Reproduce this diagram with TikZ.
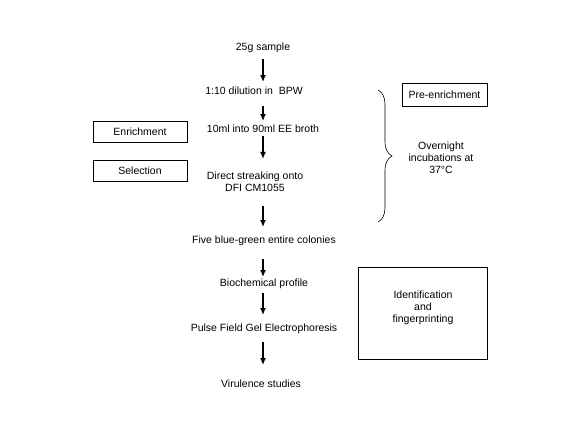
\documentclass[tikz,border=0pt]{standalone}
\usepackage{fontspec}
\setmainfont{Liberation Sans}
\usetikzlibrary{arrows.meta, decorations.pathreplacing}

\begin{document}
\begin{tikzpicture}[x=1pt,y=-1pt,
		every node/.style={font=\fontsize{10.5}{12}\selectfont, inner sep=0pt},
		stage/.style={text height=7.5pt, text depth=2pt},
		twoline/.style={align=center},
		tag/.style={draw=black, line width=0.8pt, minimum width=94pt, minimum height=21pt},
		flow/.style={black, line width=1.6pt, -{Latex[length=7pt,width=6pt]}}]
				\useasboundingbox (0,0) rectangle (576,432);
				\node[stage] (sample) at (263,48) {25g sample};
				\node[stage] (dilution) at (254,92) {1:10 dilution in\ \ BPW};
				\node[stage] (broth) at (263,130) {10ml into 90ml EE broth};
				\node[twoline] (streak) at (255,182) {Direct streaking onto\\DFI CM1055};
				\node[stage] (colonies) at (264,241) {Five blue-green entire colonies};
				\node[stage] (biochem) at (264,284) {Biochemical profile};
				\node[stage] (pfge) at (264,329) {Pulse Field Gel Electrophoresis};
				\node[stage] (virulence) at (261,385) {Virulence studies};
				% one column of arrows under the sample
				\draw[flow, shorten <=6pt, shorten >=5pt] (sample.south) -- (dilution.north -| sample);
				\draw[flow, shorten <=9pt, shorten >=4pt] (dilution.south -| sample) -- (broth.north -| sample);
				\draw[flow, shorten <=1pt, shorten >=13pt] (broth.south -| sample) -- (streak.north -| sample);
				\draw[flow, shorten <=14pt, shorten >=9pt] (streak.south -| sample) -- (colonies.north -| sample);
				\draw[flow, shorten <=13pt, shorten >=2pt] (colonies.south -| sample) -- (biochem.north -| sample);
				\draw[flow, shorten <=4pt, shorten >=9pt] (biochem.south -| sample) -- (pfge.north -| sample);
				\draw[flow, shorten <=8pt, shorten >=15pt] (pfge.south -| sample) -- (virulence.north -| sample);
				\node[tag] (enrich) at (140,131.5) {Enrichment};
				\node[tag] (select) at (140,170.5) {Selection};
				\node[tag, minimum width=85pt, minimum height=23pt] (preenrich) at (444.5,94.5) {Pre-enrichment};
				\draw[black, line width=0.6pt, decorate, decoration={brace, amplitude=14pt}] (378,90) -- (378,222);
				\node[twoline] (overnight) at (441,158) {Overnight\\incubations at\\37°C};
				\node[tag, minimum width=129pt, minimum height=92pt] (idbox) at (422.5,313) {};
				\node[twoline] (idtext) at (423,308) {Identification\\and\\fingerprinting};
			\end{tikzpicture}
\end{document}
